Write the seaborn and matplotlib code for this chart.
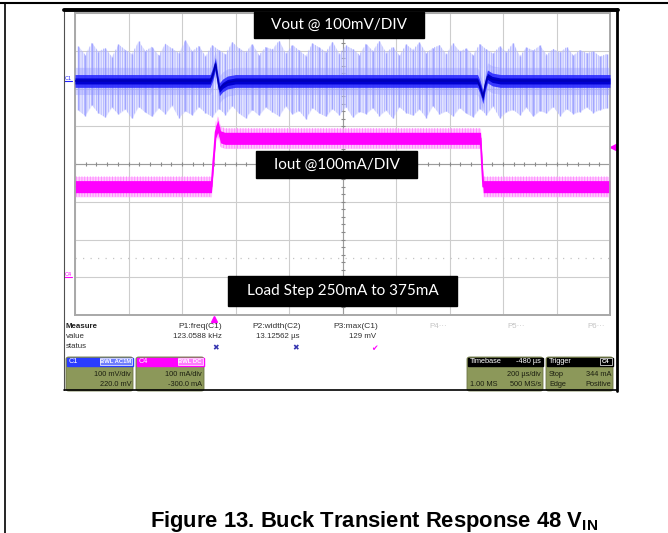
import numpy as np
import matplotlib
matplotlib.use("Agg")
import matplotlib.pyplot as plt
import matplotlib.transforms as mtransforms
from matplotlib.patches import Rectangle, FancyBboxPatch
from matplotlib.lines import Line2D
import seaborn as sns

# ----------------------------- #
#  Scope settings
# ----------------------------- #
t_per_div = 200        # us/div
t_left = -520          # us at left edge of graticule (trigger 2.6 div in)
vout_per_div = 100     # mV/div
vout_offset = 220      # mV
iout_per_div = 100     # mA/div
iout_offset = -300     # mA
trig_level = 344       # mA

# ----------------------------- #
#  Traces
# ----------------------------- #
# C1 Vout (AC), centre of the trace, mV
vout_t = [-520, -15, -5, 5, 12, 20, 32, 50, 80, 985, 995, 1005, 1013, 1022, 1040, 1070, 1480]
vout_v = [0, 0, 18, 45, 10, -22, -12, -4, 0, 0, -18, -43, -12, 12, 4, 0, 0]

# C1 noise spikes, envelope per 25 us slot, mV
vout_spike_hi = [92, 70, 101, 78, 88, 64, 97, 83, 72, 105, 80, 91, 68, 99, 86, 74, 108, 79, 93, 66,
                 95, 82, 71, 103, 87, 76, 98, 69, 90, 84, 107, 73, 96, 81, 67, 100, 89, 77, 104, 72,
                 94, 85, 70, 99, 80, 106, 75, 91, 68, 97, 83, 102, 74, 88, 95, 71, 100, 79, 86, 69,
                 98, 84, 73, 92, 77, 101, 66, 89, 81, 94, 70, 85, 76, 90, 68, 82, 74, 79, 65, 72]
vout_spike_lo = [-78, -92, -64, -85, -96, -70, -88, -75, -99, -68, -83, -94, -72, -87, -65, -97, -80, -90, -69, -84,
                 -95, -73, -89, -66, -86, -98, -76, -91, -70, -82, -93, -67, -88, -79, -100, -71, -85, -94, -74, -90,
                 -68, -96, -81, -87, -72, -92, -78, -99, -69, -84, -91, -75, -97, -66, -88, -80, -93, -71, -86, -95,
                 -73, -89, -67, -98, -82, -76, -90, -70, -94, -79, -85, -68, -92, -74, -87, -81, -70, -84, -76, -72]

# C4 Iout, mA
iout_t = [-520, -10, 6, 14, 24, 40, 996, 1006, 1480]
iout_i = [240, 240, 385, 400, 372, 368, 368, 240, 240]

# ----------------------------- #
#  Readout panel text
# ----------------------------- #
meas_names = ["P1:freq(C1)", "P2:width(C2)", "P3:max(C1)"]
meas_values = ["123.0588 kHz", "13.12562 \u00b5s", "129 mV"]
meas_status = ["\u2716", "\u2716", "\u2714"]
meas_empty = ["P4\u00b7\u00b7\u00b7", "P5\u00b7\u00b7\u00b7", "P6\u00b7\u00b7\u00b7"]

W, H = 668, 533


def fx(px):
    return px / W


def fy(py):
    return 1 - py / H


sns.set_theme(style="white")
plt.rcParams["font.family"] = ["Liberation Sans", "DejaVu Sans"]
plt.rcParams["mathtext.fontset"] = "custom"
plt.rcParams["mathtext.bf"] = "Liberation Sans:bold"
plt.rcParams["mathtext.rm"] = "Liberation Sans"
plt.rcParams["hatch.linewidth"] = 0.6

fig = plt.figure(figsize=(W / 100, H / 100), dpi=100)
fig.patch.set_facecolor("white")

# graticule axes = Iout channel, twin = Vout channel
gl, gr, gt, gb = 75, 610, 13, 315
ax = fig.add_axes([fx(gl), fy(gb), (gr - gl) / W, (gb - gt) / H])
ax_v = ax.twinx()

ax.set_xlim(t_left, t_left + 10 * t_per_div)
ax.set_ylim(-iout_offset - 4 * iout_per_div, -iout_offset + 4 * iout_per_div)
ax_v.set_ylim(-vout_offset - 4 * vout_per_div, -vout_offset + 4 * vout_per_div)

ax.set_xticks([t_left + k * t_per_div for k in range(11)])
ax.set_yticks([-iout_offset + k * iout_per_div for k in range(-4, 5)])
ax.grid(True, color="#cdcdcd", lw=0.8)
ax.tick_params(length=0, labelbottom=False, labelleft=False)
ax_v.tick_params(length=0, labelright=False)
ax_v.grid(False)
for a in (ax, ax_v):
    for s in a.spines.values():
        s.set_color("#a8a8a8")
        s.set_linewidth(1.2)

# centre lines with 0.2 div ticks
t_mid = t_left + 5 * t_per_div
i_mid = -iout_offset
ax.axhline(i_mid, color="#9c9c9c", lw=0.8, zorder=1)
ax.axvline(t_mid, color="#9c9c9c", lw=0.8, zorder=1)
ax.plot(np.arange(t_left, t_left + 10 * t_per_div, t_per_div / 5), [i_mid] * 50,
        ls="none", marker="|", ms=3.5, mew=0.8, color="#8a8a8a", zorder=1)
ax.plot([t_mid] * 40, np.arange(i_mid - 4 * iout_per_div, i_mid + 4 * iout_per_div, iout_per_div / 5),
        ls="none", marker="_", ms=3.5, mew=0.8, color="#8a8a8a", zorder=1)
# C4 reference dotted line
ax.axhline(i_mid - 2.5 * iout_per_div, color="#c4c4c4", lw=0.9, ls=(0, (1, 5)), zorder=1)

# ----------------------------- #
#  Vout trace
# ----------------------------- #
slot_t = np.arange(t_left, t_left + 10 * t_per_div, 25) + 12.5
ax_v.fill_between(slot_t, vout_spike_lo, vout_spike_hi, color="#c4c7ff", alpha=0.4, lw=0, zorder=2)
ax_v.fill_between(slot_t, vout_spike_lo, vout_spike_hi, facecolor="none", edgecolor="#b2b5ff",
                  hatch="|||||||", lw=0, zorder=2)
ax_v.vlines(slot_t, vout_spike_lo, vout_spike_hi, color="#a2a6ff", lw=1.0, zorder=2)
vv = np.array(vout_v)
ax_v.fill_between(vout_t, vv - 36, vv + 36, color="#8f93ff", alpha=0.35, lw=0, zorder=3)
ax_v.fill_between(vout_t, vv - 17, vv + 17, color="#2b2bff", alpha=0.9, lw=0, zorder=3)
ax_v.fill_between(vout_t, vv - 8, vv + 8, color="#0000d0", lw=0, zorder=4)
sns.lineplot(x=vout_t, y=vout_v, ax=ax_v, color="#0000b0", lw=1.0, sort=False, zorder=5)

# ----------------------------- #
#  Iout trace
# ----------------------------- #
ii = np.array(iout_i)
ax.fill_between(iout_t, ii - 27, ii + 27, color="#ffa6ff", alpha=0.6, lw=0, zorder=3)
ax.fill_between(iout_t, ii - 27, ii + 27, facecolor="none", edgecolor="#ff80ff",
                hatch="||||||", lw=0, zorder=3)
ax.fill_between(iout_t, ii - 16, ii + 16, color="#ff00ff", lw=0, zorder=4)
sns.lineplot(x=iout_t, y=iout_i, ax=ax, color="#ff00ff", lw=1.3, sort=False, zorder=5)

# markers: channel grounds, trigger level and trigger position
blend_v = mtransforms.blended_transform_factory(ax_v.transAxes, ax_v.transData)
blend_i = mtransforms.blended_transform_factory(ax.transAxes, ax.transData)
ax_v.text(-0.013, 0, "C1", transform=blend_v, color="#2020ff", fontsize=4, ha="center", va="bottom")
ax_v.plot([-0.02, -0.006], [0, 0], transform=blend_v, color="#2020ff", lw=0.8, clip_on=False)
ax.text(-0.013, 0, "C4", transform=blend_i, color="#ff00ff", fontsize=4, ha="center", va="bottom")
ax.plot([-0.02, -0.006], [0, 0], transform=blend_i, color="#ff00ff", lw=0.8, clip_on=False)
ax.plot([1.006], [trig_level], transform=blend_i, marker="<", ms=4, color="#ff00ff", clip_on=False)
blend_t = mtransforms.blended_transform_factory(ax.transData, ax.transAxes)
ax.plot([0], [-0.014], transform=blend_t, marker="^", ms=4, color="#ff00ff", clip_on=False)

# ----------------------------- #
#  Frames
# ----------------------------- #
fig.add_artist(Line2D([0, 1], [fy(3), fy(3)], transform=fig.transFigure, color="black", lw=1.5))
fig.add_artist(Line2D([fx(4.5), fx(4.5)], [fy(3), 0], transform=fig.transFigure, color="black", lw=1.2))
fig.add_artist(Line2D([fx(64), fx(64)], [fy(9), fy(390)], transform=fig.transFigure, color="#505050", lw=0.8))
fig.add_artist(Line2D([fx(64), fx(617)], [fy(390), fy(390)], transform=fig.transFigure, color="black", lw=1.2))
fig.add_artist(Line2D([fx(617), fx(617)], [fy(9), fy(391)], transform=fig.transFigure, color="black", lw=2))
fig.add_artist(Line2D([fx(64), fx(618)], [fy(9.5), fy(9.5)], transform=fig.transFigure, color="black", lw=2.8))


# black label boxes on the screen
def label_box(x0, y0, x1, y1, s, size):
    fig.add_artist(Rectangle((fx(x0), fy(y1)), (x1 - x0) / W, (y1 - y0) / H,
                             transform=fig.transFigure, color="black", zorder=6))
    fig.text(fx((x0 + x1) / 2), fy((y0 + y1) / 2), s, color="white", fontsize=size,
             family="Lato", ha="center", va="center", zorder=7)


label_box(254, 12, 424, 38, "Vout @ 100mV/DIV", 11)
label_box(256, 151, 417, 178, "Iout @100mA/DIV", 11)
label_box(228, 276, 457, 306, "Load Step 250mA to 375mA", 11)

# ----------------------------- #
#  Measurement readout
# ----------------------------- #
fs = 5.7
fig.text(fx(66), fy(327), "Measure", fontsize=fs, weight="bold", color="#202020", va="center")
fig.text(fx(66), fy(337), "value", fontsize=fs, color="#303030", va="center")
fig.text(fx(66), fy(347), "status", fontsize=fs, color="#303030", va="center")
name_x = [222, 301, 378]
val_x = [222, 299, 376]
stat_x = [216, 296, 374]
stat_c = ["#3535b0", "#3535b0", "#ff00ff"]
for k in range(3):
    fig.text(fx(name_x[k]), fy(327), meas_names[k], fontsize=fs + 0.3, color="#303030", ha="right", va="center")
    fig.text(fx(val_x[k]), fy(337), meas_values[k], fontsize=fs, color="#303030", ha="right", va="center")
    fig.text(fx(stat_x[k]), fy(348), meas_status[k], fontsize=fs, color=stat_c[k], ha="center", va="center",
             family=["DejaVu Sans"])
for k, x in enumerate([429, 507, 587]):
    fig.text(fx(x), fy(327), meas_empty[k], fontsize=fs, color="#c4c4c4", va="center")

olive = "#8c985a"
pfs = 5.3


def panel(x0, x1, head_col, head_left, head_right, badge_col, lines):
    y0, y1 = 357, 391
    fig.add_artist(FancyBboxPatch((fx(x0), fy(y1)), (x1 - x0) / W, (y1 - y0) / H,
                                  boxstyle="round,pad=0,rounding_size=0.004",
                                  transform=fig.transFigure, facecolor=olive, edgecolor="#6b7444", lw=0.6))
    fig.add_artist(Rectangle((fx(x0 + 0.5), fy(366)), (x1 - x0 - 1) / W, 8.5 / H,
                             transform=fig.transFigure, color=head_col))
    fig.text(fx(x0 + 3), fy(361.5), head_left, fontsize=pfs, color="white", va="center")
    if badge_col is not None:
        bw = 5 + 3.3 * len(head_right)
        fig.add_artist(Rectangle((fx(x1 - 1.5 - bw), fy(365)), bw / W, 7 / H,
                                 transform=fig.transFigure, facecolor=badge_col, edgecolor="white", lw=0.5))
        fig.text(fx(x1 - 1.5 - bw / 2), fy(361.5), head_right, fontsize=4.2, color="white",
                 ha="center", va="center", weight="bold")
    else:
        fig.text(fx(x1 - 2), fy(361.5), head_right, fontsize=pfs, color="white", ha="right", va="center")
    for (yy, left, right) in lines:
        if left:
            fig.text(fx(x0 + 3), fy(yy), left, fontsize=pfs, color="#1c1f10", va="center")
        fig.text(fx(x1 - 2), fy(yy), right, fontsize=pfs, color="#1c1f10", ha="right", va="center")


panel(66, 133, "#2a3cff", "C1", "BWL AC1M", "#6f7dff",
      [(374, "", "100 mV/div"), (384, "", "220.0 mV")])
panel(136, 204, "#ff00ff", "C4", "BWL DC", "#ff7bff",
      [(374, "", "100 mA/div"), (384, "", "-300.0 mA")])
panel(467, 543, "#000000", "Timebase", "-480 \u00b5s", None,
      [(374, "", "200 \u00b5s/div"), (384, "1.00 MS", "500 MS/s")])
panel(546, 613, "#000000", "Trigger", "C4", "#000000",
      [(374, "Stop", "344 mA"), (384, "Edge", "Positive")])

# ----------------------------- #
#  Caption
# ----------------------------- #
fig.text(fx(150), fy(527), r"Figure 13. Buck Transient Response 48 V$_{\mathbf{IN}}$",
         fontsize=15.8, weight="bold", color="black", va="baseline")

fig.savefig("out.png", dpi=100)
